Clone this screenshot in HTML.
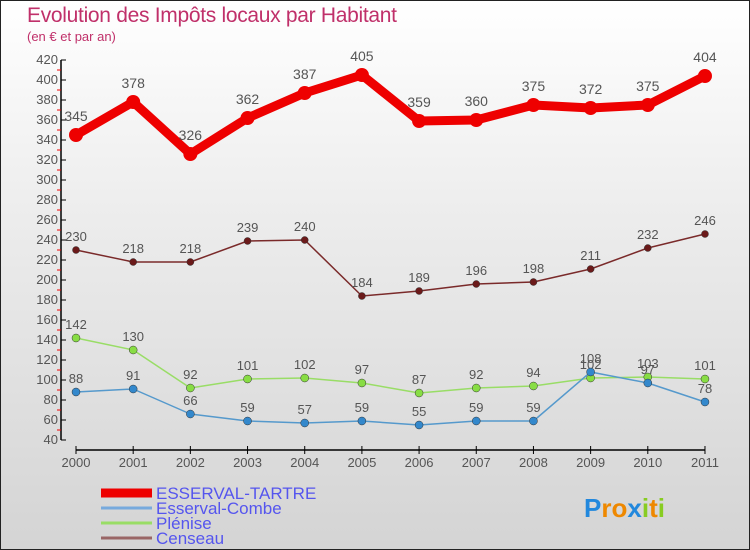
<!DOCTYPE html>
<html><head><meta charset="utf-8"><style>
body{margin:0;}
#c{position:relative;width:748px;height:548px;border:1px solid #222;background:linear-gradient(#ffffff 0%,#ececec 40%,#d4d4d4 100%);font-family:"Liberation Sans","DejaVu Sans",sans-serif;overflow:hidden}
.t{position:absolute;left:26px;top:3px;font-size:21px;color:#c0306a;letter-spacing:-0.3px}
.s{position:absolute;left:26px;top:28px;font-size:13px;color:#c0306a}
</style></head><body>
<div id="c">
<div class="t">Evolution des Impôts locaux par Habitant</div>
<div class="s">(en € et par an)</div>
<svg id="svg" width="748" height="548" style="position:absolute;left:0;top:0"></svg>
</div>
<script>
const years=[2000,2001,2002,2003,2004,2005,2006,2007,2008,2009,2010,2011];
const tartre=[345,378,326,362,387,405,359,360,375,372,375,404];
const combe=[88,91,66,59,57,59,55,59,59,108,97,78];
const plenise=[142,130,92,101,102,97,87,92,94,102,103,101];
const censeau=[230,218,218,239,240,184,189,196,198,211,232,246];
const yTicks=[40,60,80,100,120,140,160,180,200,220,240,260,280,300,320,340,360,380,400,420];
const NS="http://www.w3.org/2000/svg";
const svg=document.getElementById('svg');
function X(i){return 75+i*57.18;}
function Y(v){return 479-v;}
function mk(t,a,p){const e=document.createElementNS(NS,t);for(const k in a)e.setAttribute(k,a[k]);(p||svg).appendChild(e);return e;}
let ax=mk('line',{x1:60,y1:Y(420),x2:60,y2:Y(40),stroke:'#000','stroke-width':1.5});


yTicks.forEach(v=>{
 mk('line',{x1:60,y1:Y(v),x2:65,y2:Y(v),stroke:'#000'});
 if(v<420)mk('line',{x1:56,y1:Y(v+10),x2:60,y2:Y(v+10),stroke:'#e00'});
 const t=mk('text',{x:57,y:Y(v)+4,'text-anchor':'end','font-size':13,fill:'#555'});
 t.textContent=v;
 
 
});
let xa=mk('line',{x1:75,y1:449,x2:X(11),y2:449,stroke:'#000','stroke-width':1.5});


years.forEach((y,i)=>{
 mk('line',{x1:X(i),y1:445,x2:X(i),y2:453,stroke:'#000'});
 const t=mk('text',{x:X(i),y:466,'text-anchor':'middle','font-size':13,fill:'#555'});
 t.textContent=y;
 
 
});
function series(vals,color,dot,w,r,name,fs,off){
 const g=mk('g',{});
 
 
 mk('polyline',{points:vals.map((v,i)=>X(i)+','+Y(v)).join(' '),fill:'none',stroke:color,'stroke-width':w,'stroke-linejoin':'round'},g);
 vals.forEach((v,i)=>{
  const c=mk('circle',{cx:X(i),cy:Y(v),r:r,fill:dot,stroke:w>3?'none':'#333','stroke-width':0.5},g);
  
  
  const t=mk('text',{x:X(i),y:Y(v)-off,'text-anchor':'middle','font-size':fs,fill:'#555'},g);
  t.textContent=v;
  
  
 });
}
series(censeau,'#7a2a2a','#6b1a1a',1.5,3.5,'censeau',13,9);
series(plenise,'#99dd66','#88dd44',1.5,4,'plenise',13,9);
series(combe,'#5599cc','#3388cc',1.5,4,'esserval-combe',13,9);
series(tartre,'#ee0000','#ee0000',9,7,'esserval-tartre',14,14);
const leg=[['ESSERVAL-TARTRE','#ee0000',9],['Esserval-Combe','#77aadd',3],['Plénise','#99dd66',3],['Censeau','#996666',3]];
leg.forEach((l,i)=>{
 const y=492+i*15;
 const g=mk('g',{});
 
 
 mk('line',{x1:100,y1:y,x2:151,y2:y,stroke:l[1],'stroke-width':l[2]},g);
 const t=mk('text',{x:155,y:y+6,'font-size':17,fill:'#5555ee'},g);
 t.textContent=l[0];
});
const lg=mk('text',{x:583,y:516,'font-size':26,'font-weight':'bold'});


[['P','#2288dd'],['r','#ee8800'],['o','#ee8800'],['x','#2288dd'],['i','#88cc22'],['t','#ee8800'],['i','#88cc22']].forEach(a=>{const s=mk('tspan',{fill:a[1]},lg);s.textContent=a[0];});
</script>
</body></html>
